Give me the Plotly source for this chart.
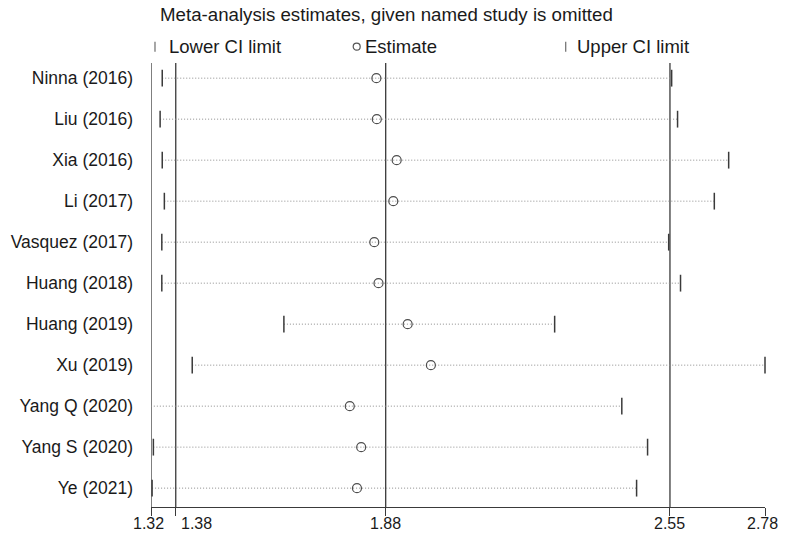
import plotly.graph_objects as go

studies = ["Ninna (2016)", "Liu (2016)", "Xia (2016)", "Li (2017)", "Vasquez (2017)",
           "Huang (2018)", "Huang (2019)", "Xu (2019)", "Yang Q (2020)", "Yang S (2020)", "Ye (2021)"]
lower = [1.348, 1.343, 1.348, 1.353, 1.347, 1.347, 1.636, 1.419, 1.321, 1.327, 1.324]
estimate = [1.855, 1.856, 1.903, 1.895, 1.850, 1.860, 1.929, 1.984, 1.792, 1.819, 1.809]
upper = [2.554, 2.568, 2.689, 2.655, 2.547, 2.575, 2.277, 2.775, 2.436, 2.497, 2.471]

ref_lines = [1.3214, 1.38, 1.877, 2.55]
tick_vals = [1.3214, 1.38, 1.877, 2.55, 2.775]
tick_text = ["1.32", "1.38", "1.88", "2.55", "2.78"]
tick_shift = [-3, 21, 0, 0, -3]

FONT = "Liberation Sans, Arial, sans-serif"
DARK = "#3a3a3a"
TXT = "#1a1a1a"
rows = list(range(len(studies)))

fig = go.Figure()

# dotted CI lines
lx, ly = [], []
for i in rows:
    lx += [lower[i], upper[i], None]
    ly += [i, i, None]
fig.add_trace(go.Scatter(x=lx, y=ly, mode="lines",
                         line=dict(color="#8c8c8c", width=1, dash="1px,2px"),
                         hoverinfo="skip", showlegend=False))
# lower / upper limit ticks
for arr in (lower, upper):
    fig.add_trace(go.Scatter(x=arr, y=rows, mode="markers", cliponaxis=False,
                             marker=dict(symbol="line-ns", size=12, line=dict(color=DARK, width=1.5)),
                             showlegend=False))
# estimates
fig.add_trace(go.Scatter(x=estimate, y=rows, mode="markers", cliponaxis=False,
                         marker=dict(symbol="circle-open", size=9, color="#4d4d4d",
                                     line=dict(color="#4d4d4d", width=1.2)),
                         showlegend=False))

for v in ref_lines:
    fig.add_shape(type="line", xref="x", yref="paper", x0=v, x1=v, y0=0, y1=1,
                  line=dict(color=DARK, width=1.3), layer="below")

# x tick labels (with Stata-like offset for crowded labels)
for v, t, s in zip(tick_vals, tick_text, tick_shift):
    fig.add_annotation(xref="x", yref="paper", x=v, y=0, yanchor="middle", xanchor="center",
                       yshift=-16.5, xshift=s, text=t, showarrow=False, borderpad=0,
                       font=dict(family=FONT, size=16, color=TXT))

# title and legend
fig.add_annotation(xref="paper", yref="paper", x=0.0109, y=1.110, xanchor="left", yanchor="middle",
                   text="Meta-analysis estimates, given named study is omitted", showarrow=False,
                   font=dict(family=FONT, size=18.7, color=TXT))
leg_y = 1.0367
fig.add_shape(type="line", xref="paper", yref="paper", x0=0.0065, x1=0.0065,
              y0=leg_y - 0.0113, y1=leg_y + 0.0113, line=dict(color="#777", width=1.3))
fig.add_annotation(xref="paper", yref="paper", x=0.0256, y=leg_y, xanchor="left", yanchor="middle",
                   text="Lower CI limit", showarrow=False, font=dict(family=FONT, size=18.5, color=TXT))
fig.add_shape(type="circle", xref="paper", yref="paper", x0=0.335 - 0.0057, x1=0.335 + 0.0057,
              y0=leg_y - 0.0079, y1=leg_y + 0.0079, line=dict(color="#555", width=1.2))
fig.add_annotation(xref="paper", yref="paper", x=0.3458, y=leg_y, xanchor="left", yanchor="middle",
                   text="Estimate", showarrow=False, font=dict(family=FONT, size=18.5, color=TXT))
fig.add_shape(type="line", xref="paper", yref="paper", x0=0.6754, x1=0.6754,
              y0=leg_y - 0.0113, y1=leg_y + 0.0113, line=dict(color="#777", width=1.3))
fig.add_annotation(xref="paper", yref="paper", x=0.6906, y=leg_y, xanchor="left", yanchor="middle",
                   text="Upper CI limit", showarrow=False, font=dict(family=FONT, size=18.5, color=TXT))

fig.update_layout(
    width=787, height=534,
    margin=dict(l=151, r=22, t=63, b=27),
    paper_bgcolor="white", plot_bgcolor="white",
    font=dict(family=FONT, size=17, color=TXT),
    xaxis=dict(range=[tick_vals[0], tick_vals[-1]], tickvals=tick_vals, ticktext=[""] * len(tick_vals),
               showticklabels=False, automargin=False,
               showgrid=False, zeroline=False, showline=True, linecolor=DARK, linewidth=1.3,
               ticks="outside", ticklen=8, tickcolor=DARK, tickwidth=1.3),
    yaxis=dict(range=[10.46, -0.37], tickvals=rows, ticktext=studies, automargin=False,
               showgrid=False, zeroline=False, showline=False,
               ticks="", ticklabelstandoff=17,
               tickfont=dict(family=FONT, size=17.5, color=TXT)),
)

fig.write_html("out.html", config={"displayModeBar": False},
               post_script="document.body.style.margin='0';document.body.style.overflow='hidden';")
